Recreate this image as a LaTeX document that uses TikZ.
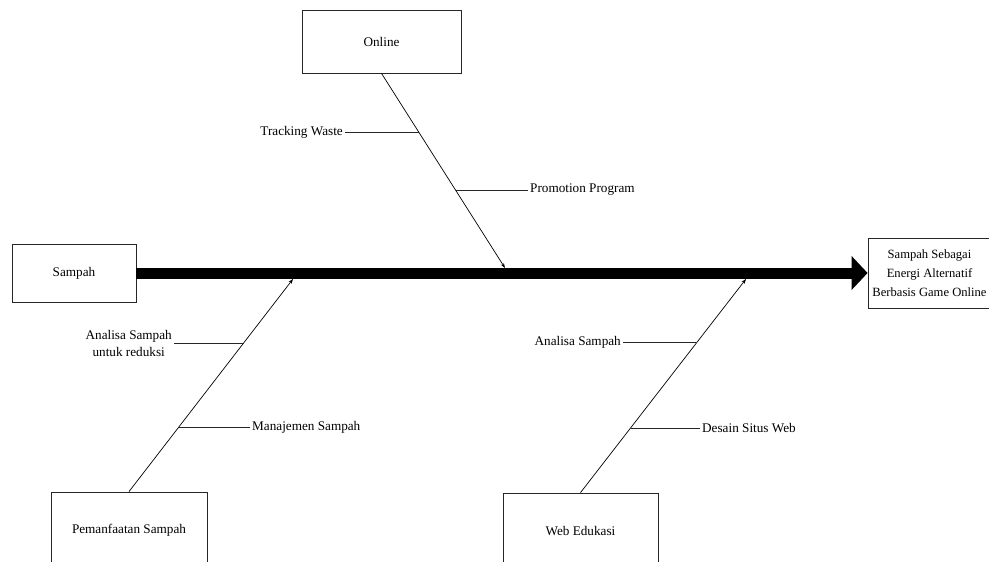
\documentclass[tikz,border=0pt]{standalone}
\usepackage{fontspec}
\setmainfont{Liberation Serif}
\usetikzlibrary{calc,arrows.meta}
\begin{document}
\begin{tikzpicture}[x=1pt,y=-1pt,
  box/.style={draw=black!85, line width=0.8pt, inner sep=0pt, align=center,
              font=\fontsize{13.2}{19}\selectfont},
  lbl/.style={inner sep=2pt, align=center, font=\fontsize{13.2}{17}\selectfont},
  bone/.style={line width=0.7pt, -{Stealth[length=5pt,width=3.5pt]}},
  tick/.style={line width=0.8pt, black!85}]
\useasboundingbox (0,0) rectangle (989,562);
\clip (0,0) rectangle (989,562);

% boxes
\node[box, minimum width=124pt, minimum height=58pt] (sampah) at (74,273) {Sampah};
\node[box, minimum width=159pt, minimum height=63pt] (online) at (381.5,41.5) {Online};
\node[box, minimum width=156pt, minimum height=76pt] (pem) at (129,530) {Pemanfaatan Sampah};
\node[box, minimum width=155pt, minimum height=76pt] (web) at (580.5,531) {Web Edukasi};
\node[box, minimum width=130pt, minimum height=70pt] (result) at (933,273) {};
\node[align=center, inner sep=0pt, font=\fontsize{12.6}{19}\selectfont] (resulttext) at (929.5,273)
  {Sampah Sebagai\\Energi Alternatif\\Berbasis Game Online};

% spine
\draw[line width=11pt, -{Triangle[length=16pt,width=33pt]}] (sampah.east) -- (result.west);

% bone tips
\coordinate (t1) at (505,268);
\coordinate (t2) at (293,279);
\coordinate (t3) at (746,279);

\draw[bone] (online.south) -- (t1);
\draw[bone] (pem.north) -- (t2);
\draw[bone] (web.north) -- (t3);

% labels
\node[lbl, anchor=east] (tw) at (345,132) {Tracking Waste};
\node[lbl, anchor=west] (pp) at (528,190) {Promotion Program};
\node[lbl, anchor=east] (asr) at (174,343) {Analisa Sampah\\untuk reduksi};
\node[lbl, anchor=west] (ms) at (250,427) {Manajemen Sampah};
\node[lbl, anchor=east] (as) at (623,342) {Analisa Sampah};
\node[lbl, anchor=west] (dsw) at (700,428) {Desain Situs Web};

% points on bones
\coordinate (p1) at ($(online.south)!0.304!(t1)$);
\coordinate (p2) at ($(online.south)!0.603!(t1)$);
\coordinate (p3) at ($(pem.north)!0.704!(t2)$);
\coordinate (p4) at ($(pem.north)!0.305!(t2)$);
\coordinate (p5) at ($(web.north)!0.70!(t3)$);
\coordinate (p6) at ($(web.north)!0.304!(t3)$);

% ticks (horizontal)
\draw[tick] (tw.east) -- (tw.east -| p1);
\draw[tick] (pp.west) -- (pp.west -| p2);
\draw[tick] (asr.east) -- (asr.east -| p3);
\draw[tick] (ms.west) -- (ms.west -| p4);
\draw[tick] (as.east) -- (as.east -| p5);
\draw[tick] (dsw.west) -- (dsw.west -| p6);
\end{tikzpicture}
\end{document}
